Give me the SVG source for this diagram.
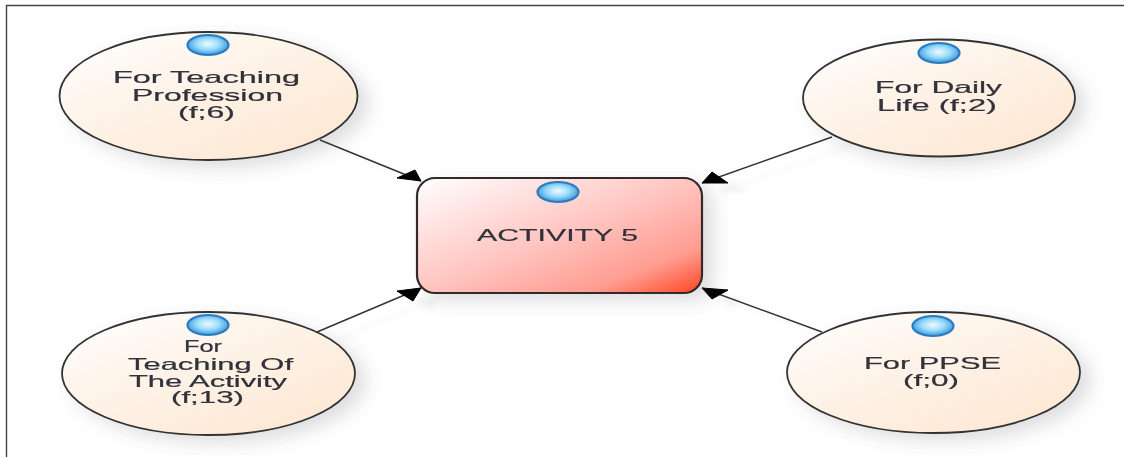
<svg xmlns="http://www.w3.org/2000/svg" width="1124" height="457" viewBox="0 0 1124 457">
<style>
.oval{fill:url(#ovalFill);stroke:#333333;stroke-width:1.8}
.bullet{fill:url(#bulletFill);stroke:#2a7cc0;stroke-width:2.2}
.lbl{font-family:"Liberation Sans",Arial,sans-serif;font-size:16.5px;fill:#30303a;stroke:#30303a;stroke-width:0.2}
.conn{stroke:#333333;stroke-width:1.4;fill:none}
.head{fill:#000000;stroke:#000000;stroke-width:1;stroke-linejoin:round}
.frame{stroke:#444444;stroke-width:1.4;fill:none}
</style>
<defs>
<linearGradient id="ovalFill" x1="0.05" y1="0" x2="0.9" y2="0.95"><stop offset="0" stop-color="#ffffff"/><stop offset="0.35" stop-color="#fef5ec"/><stop offset="1" stop-color="#fde7d2"/></linearGradient>
<linearGradient id="rectFill" x1="0" y1="0" x2="1" y2="1"><stop offset="0" stop-color="#ffffff"/><stop offset="0.5" stop-color="#ffc4c0"/><stop offset="0.8" stop-color="#ff9c90"/><stop offset="1" stop-color="#ff4422"/></linearGradient>
<radialGradient id="bulletFill" cx="0.5" cy="0.45" r="0.55"><stop offset="0" stop-color="#f2fbff"/><stop offset="0.5" stop-color="#9adcfb"/><stop offset="1" stop-color="#3a94dc"/></radialGradient>
<filter id="shadow" x="-15%" y="-15%" width="135%" height="135%"><feDropShadow dx="10" dy="7" stdDeviation="9" flood-color="#5a5a64" flood-opacity="0.2"/></filter>
<filter id="ghost" x="-10%" y="-10%" width="125%" height="130%"><feDropShadow dx="18" dy="9" stdDeviation="2.5" flood-color="#808088" flood-opacity="0.1"/></filter>
<filter id="soft" x="-5%" y="-20%" width="110%" height="140%"><feGaussianBlur stdDeviation="0.35"/></filter>
<marker id="headTL" markerUnits="userSpaceOnUse" orient="0" markerWidth="60" markerHeight="60" viewBox="-30 -30 60 60" refX="0" refY="0"><polygon class="head" points="0,0 -24,-3 -6,-11"/></marker>
<marker id="headBL" markerUnits="userSpaceOnUse" orient="0" markerWidth="60" markerHeight="60" viewBox="-30 -30 60 60" refX="0" refY="0"><polygon class="head" points="0,0 -24,3 -8,13"/></marker>
<marker id="headTR" markerUnits="userSpaceOnUse" orient="0" markerWidth="60" markerHeight="60" viewBox="-30 -30 60 60" refX="0" refY="0"><polygon class="head" points="0,0 26,0 10,-11"/></marker>
<marker id="headBR" markerUnits="userSpaceOnUse" orient="0" markerWidth="60" markerHeight="60" viewBox="-30 -30 60 60" refX="0" refY="0"><polygon class="head" points="0,0 26,2 10,11"/></marker>
</defs>
<rect width="1124" height="457" fill="#ffffff"/>
<path class="frame" d="M6.5 457V5.5H1124"/>
<g id="connectors" filter="url(#ghost)">
<line class="conn" x1="320" y1="140" x2="421" y2="181" marker-end="url(#headTL)"/>
<line class="conn" x1="832" y1="137" x2="702" y2="183" marker-end="url(#headTR)"/>
<line class="conn" x1="317" y1="332" x2="421" y2="288" marker-end="url(#headBL)"/>
<line class="conn" x1="822" y1="332" x2="702" y2="288" marker-end="url(#headBR)"/>
</g>
<g id="node-activity">
<rect x="417" y="178" width="285" height="115" rx="18" fill="url(#rectFill)" stroke="#33292a" stroke-width="2.2" filter="url(#shadow)"/>
<ellipse class="bullet" cx="558" cy="192" rx="20.5" ry="10"/>
<text class="lbl" filter="url(#soft)" x="477" y="241" textLength="161" lengthAdjust="spacingAndGlyphs">ACTIVITY 5</text>
</g>
<g id="node-teaching-profession">
<ellipse class="oval" cx="208.5" cy="96" rx="149" ry="64" filter="url(#shadow)"/>
<ellipse class="bullet" cx="208" cy="45" rx="20.5" ry="10"/>
<g filter="url(#soft)">
<text class="lbl" x="113" y="83" textLength="187" lengthAdjust="spacingAndGlyphs">For Teaching</text>
<text class="lbl" x="132" y="101" textLength="151" lengthAdjust="spacingAndGlyphs">Profession</text>
<text class="lbl" x="178" y="118" textLength="57" lengthAdjust="spacingAndGlyphs">(f;6)</text>
</g>
</g>
<g id="node-daily-life">
<ellipse class="oval" cx="939" cy="98" rx="136" ry="58.5" filter="url(#shadow)"/>
<ellipse class="bullet" cx="939" cy="53" rx="20.5" ry="10"/>
<g filter="url(#soft)">
<text class="lbl" x="875" y="93" textLength="127" lengthAdjust="spacingAndGlyphs">For Daily</text>
<text class="lbl" x="877" y="111" textLength="120" lengthAdjust="spacingAndGlyphs">Life (f;2)</text>
</g>
</g>
<g id="node-teaching-activity">
<ellipse class="oval" cx="208.5" cy="373.5" rx="146.5" ry="61.5" filter="url(#shadow)"/>
<ellipse class="bullet" cx="208" cy="325" rx="20.5" ry="10"/>
<g filter="url(#soft)">
<text class="lbl" x="184" y="352" textLength="38" lengthAdjust="spacingAndGlyphs">For</text>
<text class="lbl" x="128" y="370" textLength="165" lengthAdjust="spacingAndGlyphs">Teaching Of</text>
<text class="lbl" x="129" y="387" textLength="158" lengthAdjust="spacingAndGlyphs">The Activity</text>
<text class="lbl" x="171" y="403" textLength="73" lengthAdjust="spacingAndGlyphs">(f;13)</text>
</g>
</g>
<g id="node-ppse">
<ellipse class="oval" cx="933.5" cy="372.5" rx="146.5" ry="60.5" filter="url(#shadow)"/>
<ellipse class="bullet" cx="933" cy="326" rx="20.5" ry="10"/>
<g filter="url(#soft)">
<text class="lbl" x="864" y="369" textLength="137" lengthAdjust="spacingAndGlyphs">For PPSE</text>
<text class="lbl" x="903" y="386" textLength="56" lengthAdjust="spacingAndGlyphs">(f;0)</text>
</g>
</g>
</svg>
